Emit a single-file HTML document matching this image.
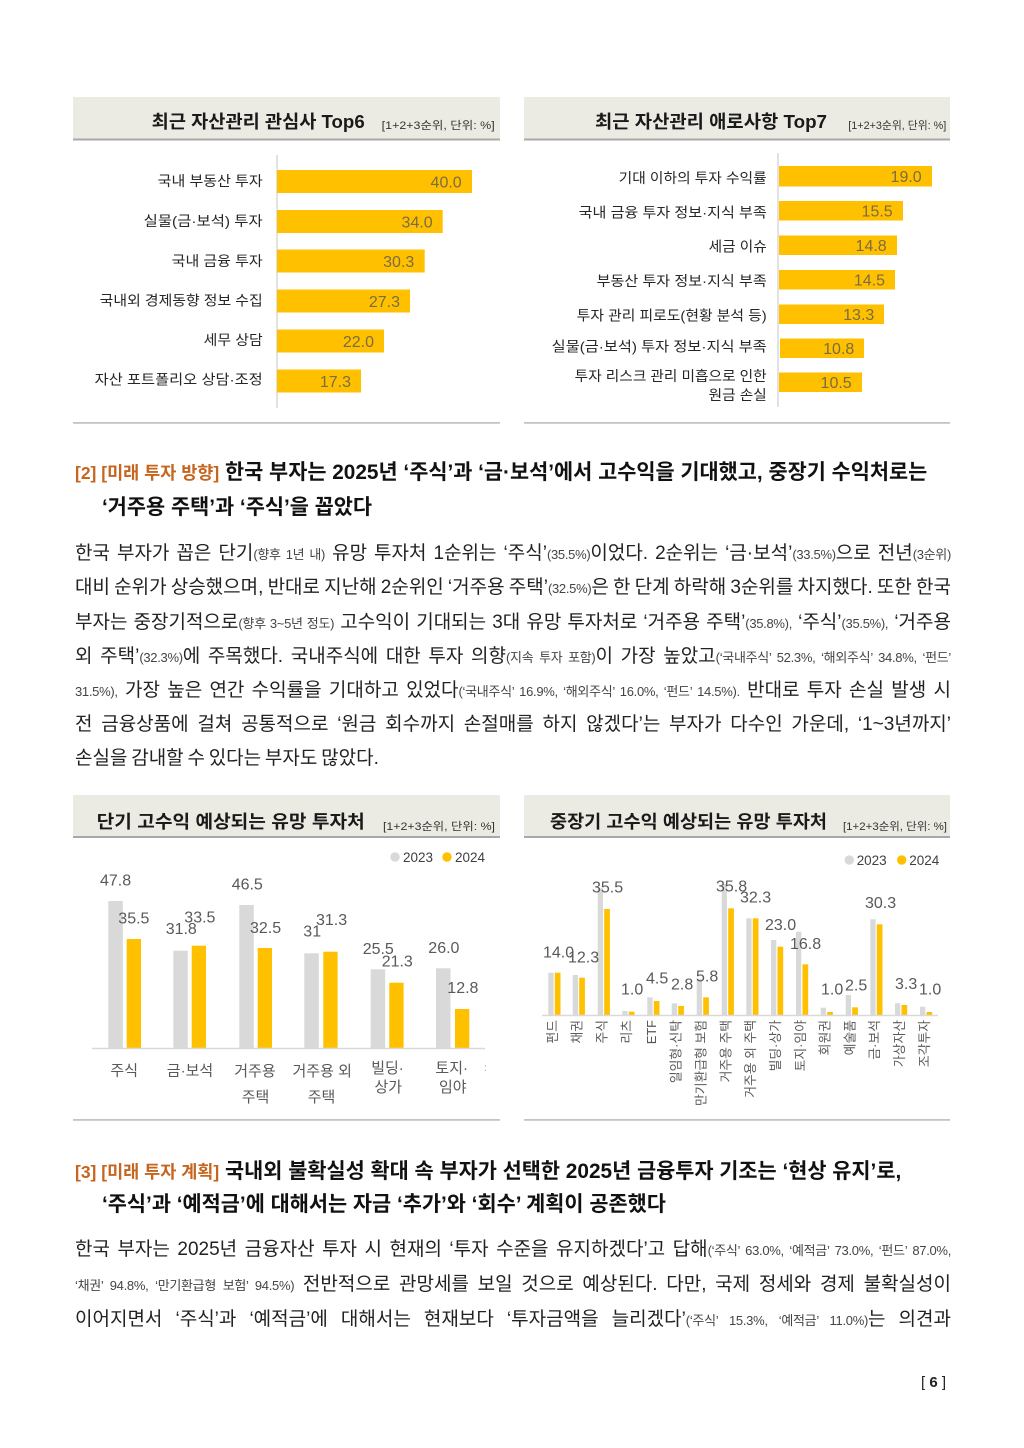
<!DOCTYPE html>
<html><head><meta charset="utf-8">
<style>
html,body{margin:0;padding:0;background:#fff;}
body{width:1024px;height:1448px;position:relative;overflow:hidden;font-family:"Liberation Sans","Noto Sans CJK KR",sans-serif;}
svg{position:absolute;left:0;top:0;}
.ln{position:absolute;left:75px;width:876px;height:34px;line-height:34px;font-size:19px;color:#222;text-align:justify;text-align-last:justify;white-space:nowrap;word-spacing:-1.5px;}
.ln.last{text-align:left;text-align-last:left;}
.s{font-size:13px;color:#444;letter-spacing:-0.3px;}
.hl{position:absolute;left:75px;height:34px;line-height:34px;font-size:20.8px;font-weight:bold;color:#111;white-space:nowrap;}
.hb{font-size:17.5px;color:#C5651E;}
.pg{position:absolute;left:921px;top:1373px;font-size:15px;color:#222;line-height:20px;white-space:nowrap;}
</style></head>
<body>
<svg width="1024" height="1448" viewBox="0 0 1024 1448" font-family="'Liberation Sans','Noto Sans CJK KR',sans-serif">
<!-- ===== Top-left chart ===== -->
<rect x="73" y="97" width="427" height="42" fill="#ecebe3"/>
<rect x="73" y="138.5" width="427" height="2" fill="#a8a8a8"/>
<text x="151.7" y="128" font-size="18" font-weight="bold" fill="#1a1a1a" textLength="213" lengthAdjust="spacingAndGlyphs">최근 자산관리 관심사 Top6</text>
<text x="381.7" y="129" font-size="11" fill="#333" textLength="113" lengthAdjust="spacingAndGlyphs">[1+2+3순위, 단위: %]</text>
<line x1="277" y1="155" x2="277" y2="408" stroke="#d9d9d9" stroke-width="1.5"/>
<g fill="#FFC000">
<rect x="277" y="170" width="195" height="23"/>
<rect x="277" y="210" width="165.7" height="23"/>
<rect x="277" y="249.5" width="147.7" height="23"/>
<rect x="277" y="289.5" width="133" height="23"/>
<rect x="277" y="329.5" width="107" height="23"/>
<rect x="277" y="369.5" width="84" height="23"/>
</g>
<g font-size="16" fill="#7a6c45" text-anchor="end">
<text x="461.7" y="187.3">40.0</text>
<text x="432.7" y="227.3">34.0</text>
<text x="414.3" y="266.8">30.3</text>
<text x="400" y="306.8">27.3</text>
<text x="374" y="346.8">22.0</text>
<text x="351" y="386.8">17.3</text>
</g>
<g font-size="14" fill="#262626" text-anchor="end">
<text x="262.7" y="186" textLength="105" lengthAdjust="spacingAndGlyphs">국내 부동산 투자</text>
<text x="262.7" y="226" textLength="119" lengthAdjust="spacingAndGlyphs">실물(금·보석) 투자</text>
<text x="262.7" y="266" textLength="91" lengthAdjust="spacingAndGlyphs">국내 금융 투자</text>
<text x="262.7" y="305.3" textLength="163" lengthAdjust="spacingAndGlyphs">국내외 경제동향 정보 수집</text>
<text x="262.7" y="345" textLength="59" lengthAdjust="spacingAndGlyphs">세무 상담</text>
<text x="262.7" y="384.5" textLength="168" lengthAdjust="spacingAndGlyphs">자산 포트폴리오 상담·조정</text>
</g>
<rect x="73" y="422" width="427" height="1.8" fill="#c4c4c4"/>

<!-- ===== Top-right chart ===== -->
<rect x="524" y="97" width="426" height="42" fill="#ecebe3"/>
<rect x="524" y="138.5" width="426" height="2" fill="#a8a8a8"/>
<text x="595" y="128" font-size="18" font-weight="bold" fill="#1a1a1a" textLength="232" lengthAdjust="spacingAndGlyphs">최근 자산관리 애로사항 Top7</text>
<text x="848.3" y="129" font-size="11" fill="#333" textLength="98" lengthAdjust="spacingAndGlyphs">[1+2+3순위, 단위: %]</text>
<line x1="778" y1="153" x2="778" y2="407" stroke="#d9d9d9" stroke-width="1.5"/>
<g fill="#FFC000">
<rect x="779" y="166" width="153" height="20.5"/>
<rect x="779" y="201" width="124" height="19.5"/>
<rect x="779" y="235.5" width="118" height="19.5"/>
<rect x="779" y="270" width="116" height="19.5"/>
<rect x="779" y="304.5" width="105" height="19.5"/>
<rect x="780" y="338.5" width="84" height="19.5"/>
<rect x="779" y="372.5" width="83" height="19.5"/>
</g>
<g font-size="16" fill="#7a6c45" text-anchor="end">
<text x="921.7" y="182">19.0</text>
<text x="892.7" y="216.5">15.5</text>
<text x="886.7" y="251">14.8</text>
<text x="885" y="285.5">14.5</text>
<text x="874.3" y="320">13.3</text>
<text x="854.3" y="354">10.8</text>
<text x="851.7" y="388">10.5</text>
</g>
<g font-size="14" fill="#262626" text-anchor="end">
<text x="766.7" y="183" textLength="148" lengthAdjust="spacingAndGlyphs">기대 이하의 투자 수익률</text>
<text x="766.7" y="217.7" textLength="188" lengthAdjust="spacingAndGlyphs">국내 금융 투자 정보·지식 부족</text>
<text x="766.7" y="251.7" textLength="58" lengthAdjust="spacingAndGlyphs">세금 이슈</text>
<text x="766.7" y="286" textLength="170" lengthAdjust="spacingAndGlyphs">부동산 투자 정보·지식 부족</text>
<text x="766.7" y="320.3" textLength="190" lengthAdjust="spacingAndGlyphs">투자 관리 피로도(현황 분석 등)</text>
<text x="766.7" y="351.7" textLength="215" lengthAdjust="spacingAndGlyphs">실물(금·보석) 투자 정보·지식 부족</text>
<text x="766.7" y="381" textLength="192" lengthAdjust="spacingAndGlyphs">투자 리스크 관리 미흡으로 인한</text>
<text x="766.7" y="400" textLength="58" lengthAdjust="spacingAndGlyphs">원금 손실</text>
</g>
<rect x="524" y="422" width="426" height="1.8" fill="#c4c4c4"/>

<!-- ===== Bottom-left chart ===== -->
<rect x="73" y="795" width="427" height="42" fill="#ecebe3"/>
<rect x="73" y="836" width="427" height="2" fill="#a8a8a8"/>
<text x="96.7" y="828" font-size="18" font-weight="bold" fill="#1a1a1a" textLength="268" lengthAdjust="spacingAndGlyphs">단기 고수익 예상되는 유망 투자처</text>
<text x="383" y="830" font-size="11" fill="#333" textLength="112" lengthAdjust="spacingAndGlyphs">[1+2+3순위, 단위: %]</text>
<circle cx="395" cy="857" r="4.7" fill="#d9d9d9"/>
<text x="403" y="862" font-size="14" fill="#404040" textLength="30" lengthAdjust="spacingAndGlyphs">2023</text>
<circle cx="447" cy="857" r="4.7" fill="#FFC000"/>
<text x="455" y="862" font-size="14" fill="#404040" textLength="30" lengthAdjust="spacingAndGlyphs">2024</text>
<g fill="#d9d9d9">
<rect x="108.3" y="901" width="14.5" height="147"/>
<rect x="173.3" y="950.7" width="14.5" height="97.3"/>
<rect x="239.3" y="905" width="14.5" height="143"/>
<rect x="304.3" y="953.3" width="14.5" height="94.7"/>
<rect x="370.7" y="969.3" width="14.5" height="78.7"/>
<rect x="436" y="968.3" width="14.5" height="79.7"/>
</g>
<g fill="#FFC000">
<rect x="126.7" y="939" width="14.3" height="109"/>
<rect x="191.7" y="945.7" width="14.3" height="102.3"/>
<rect x="257.7" y="948" width="14.3" height="100"/>
<rect x="323.3" y="951.7" width="14.3" height="96.3"/>
<rect x="389.3" y="982.7" width="14.3" height="65.3"/>
<rect x="455" y="1009" width="14.3" height="39"/>
</g>
<line x1="92" y1="1048.5" x2="485" y2="1048.5" stroke="#d9d9d9" stroke-width="1.5"/>
<g font-size="16" fill="#595959">
<text x="100" y="885.7">47.8</text>
<text x="118.3" y="923.4">35.5</text>
<text x="165.7" y="934">31.8</text>
<text x="184.3" y="922.4">33.5</text>
<text x="231.7" y="889.7">46.5</text>
<text x="250" y="933">32.5</text>
<text x="303.3" y="936.7">31</text>
<text x="316" y="925">31.3</text>
<text x="362.7" y="954">25.5</text>
<text x="381.7" y="966.7">21.3</text>
<text x="428.3" y="953">26.0</text>
<text x="447.3" y="993">12.8</text>
</g>
<g font-size="15" fill="#595959" text-anchor="middle">
<text x="124.2" y="1075.4">주식</text>
<text x="190" y="1075.4">금·보석</text>
<text x="255" y="1076.2">거주용</text>
<text x="255.5" y="1102.2">주택</text>
<text x="322.2" y="1076.2">거주용 외</text>
<text x="321.5" y="1102.2">주택</text>
<text x="387.5" y="1073.1">빌딩·</text>
<text x="388.3" y="1092.1">상가</text>
<text x="451.7" y="1073.1">토지·</text>
<text x="452.8" y="1092.1">임야</text>
</g>
<text x="484" y="1071" font-size="10" fill="#999">:</text>
<rect x="73" y="1119" width="427" height="1.8" fill="#c4c4c4"/>

<!-- ===== Bottom-right chart ===== -->
<rect x="524" y="795" width="426" height="42" fill="#ecebe3"/>
<rect x="524" y="836" width="426" height="2" fill="#a8a8a8"/>
<text x="550" y="828" font-size="18" font-weight="bold" fill="#1a1a1a" textLength="277" lengthAdjust="spacingAndGlyphs">중장기 고수익 예상되는 유망 투자처</text>
<text x="843" y="830" font-size="11" fill="#333" textLength="104" lengthAdjust="spacingAndGlyphs">[1+2+3순위, 단위: %]</text>
<circle cx="849.3" cy="860" r="4.7" fill="#d9d9d9"/>
<text x="856.7" y="865" font-size="14" fill="#404040" textLength="30" lengthAdjust="spacingAndGlyphs">2023</text>
<circle cx="901.7" cy="860" r="4.7" fill="#FFC000"/>
<text x="909.3" y="865" font-size="14" fill="#404040" textLength="30" lengthAdjust="spacingAndGlyphs">2024</text>
<g fill="#d9d9d9">
<rect x="548.3" y="972.7" width="5.3" height="42.3"/>
<rect x="572.7" y="975" width="5.3" height="40"/>
<rect x="597.7" y="888.3" width="5.3" height="126.7"/>
<rect x="622.3" y="1011" width="5.3" height="4"/>
<rect x="647.3" y="997.3" width="5.3" height="17.7"/>
<rect x="671.7" y="1003.3" width="5.3" height="11.7"/>
<rect x="696.7" y="979" width="5.3" height="36"/>
<rect x="721.7" y="884" width="5.3" height="131"/>
<rect x="746.3" y="918.3" width="5.3" height="96.7"/>
<rect x="771" y="940" width="5.3" height="75"/>
<rect x="796" y="931.7" width="5.3" height="83.3"/>
<rect x="820.7" y="1007.7" width="5.3" height="7.3"/>
<rect x="845.7" y="995" width="5.3" height="20"/>
<rect x="870.3" y="919.3" width="5.3" height="95.7"/>
<rect x="895" y="1003.3" width="5.3" height="11.7"/>
<rect x="920" y="1006.7" width="5.3" height="8.3"/>
</g>
<g fill="#FFC000">
<rect x="554.8" y="972.7" width="5.7" height="42.3"/>
<rect x="579.2" y="977.7" width="5.7" height="37.3"/>
<rect x="604.2" y="909" width="5.7" height="106"/>
<rect x="628.8" y="1011.7" width="5.7" height="3.3"/>
<rect x="653.8" y="1001" width="5.7" height="14"/>
<rect x="678.2" y="1006" width="5.7" height="9"/>
<rect x="703.2" y="997.3" width="5.7" height="17.7"/>
<rect x="728.2" y="908.3" width="5.7" height="106.7"/>
<rect x="752.8" y="918.3" width="5.7" height="96.7"/>
<rect x="777.5" y="946.7" width="5.7" height="68.3"/>
<rect x="802.5" y="964.3" width="5.7" height="50.7"/>
<rect x="827.2" y="1012" width="5.7" height="3"/>
<rect x="852.2" y="1007.3" width="5.7" height="7.7"/>
<rect x="876.8" y="924.3" width="5.7" height="90.7"/>
<rect x="901.5" y="1005" width="5.7" height="10"/>
<rect x="926.5" y="1012" width="5.7" height="3"/>
</g>
<line x1="542" y1="1015.5" x2="938" y2="1015.5" stroke="#d9d9d9" stroke-width="1.5"/>
<g font-size="16" fill="#595959">
<text x="543" y="957.4">14.0</text>
<text x="568" y="962.4">12.3</text>
<text x="592" y="892.4">35.5</text>
<text x="621" y="994.7">1.0</text>
<text x="646" y="983.7">4.5</text>
<text x="671" y="989.7">2.8</text>
<text x="696" y="981.4">5.8</text>
<text x="716" y="891.4">35.8</text>
<text x="740" y="902.7">32.3</text>
<text x="765" y="930">23.0</text>
<text x="790" y="949">16.8</text>
<text x="821" y="994.7">1.0</text>
<text x="845" y="990.7">2.5</text>
<text x="865" y="908">30.3</text>
<text x="895" y="989">3.3</text>
<text x="919" y="994.7">1.0</text>
</g>
<g font-size="12.8" fill="#595959" text-anchor="end">
<text transform="translate(557.2,1020) rotate(-90)">펀드</text>
<text transform="translate(581.6,1020) rotate(-90)">채권</text>
<text transform="translate(606.6,1020) rotate(-90)">주식</text>
<text transform="translate(631.2,1020) rotate(-90)">리츠</text>
<text transform="translate(656.2,1020) rotate(-90)">ETF</text>
<text transform="translate(680.6,1020) rotate(-90)">일임형·신탁</text>
<text transform="translate(705.6,1020) rotate(-90)">만기환급형 보험</text>
<text transform="translate(730.6,1020) rotate(-90)">거주용 주택</text>
<text transform="translate(755.2,1020) rotate(-90)">거주용 외 주택</text>
<text transform="translate(779.9,1020) rotate(-90)">빌딩·상가</text>
<text transform="translate(804.9,1020) rotate(-90)">토지·임야</text>
<text transform="translate(829.6,1020) rotate(-90)">회원권</text>
<text transform="translate(854.6,1020) rotate(-90)">예술품</text>
<text transform="translate(879.2,1020) rotate(-90)">금·보석</text>
<text transform="translate(903.9,1020) rotate(-90)">가상자산</text>
<text transform="translate(928.9,1020) rotate(-90)">조각투자</text>
</g>
<rect x="524" y="1119" width="426" height="1.8" fill="#c4c4c4"/>
</svg>

<!-- Section [2] heading -->
<div class="hl" style="top:456px;"><span class="hb">[2] [미래 투자 방향]</span> 한국 부자는 2025년 ‘주식’과 ‘금·보석’에서 고수익을 기대했고, 중장기 수익처로는</div>
<div class="hl" style="top:491px;left:102px;">‘거주용 주택’과 ‘주식’을 꼽았다</div>

<!-- Section [2] paragraph -->
<div class="ln" style="top:537px;">한국 부자가 꼽은 단기<span class="s">(향후 1년 내)</span> 유망 투자처 1순위는 ‘주식’<span class="s">(35.5%)</span>이었다. 2순위는 ‘금·보석’<span class="s">(33.5%)</span>으로 전년<span class="s">(3순위)</span></div>
<div class="ln" style="top:571px;">대비 순위가 상승했으며, 반대로 지난해 2순위인 ‘거주용 주택’<span class="s">(32.5%)</span>은 한 단계 하락해 3순위를 차지했다. 또한 한국</div>
<div class="ln" style="top:605.5px;">부자는 중장기적으로<span class="s">(향후 3~5년 정도)</span> 고수익이 기대되는 3대 유망 투자처로 ‘거주용 주택’<span class="s">(35.8%),</span> ‘주식’<span class="s">(35.5%),</span> ‘거주용</div>
<div class="ln" style="top:640px;">외 주택’<span class="s">(32.3%)</span>에 주목했다. 국내주식에 대한 투자 의향<span class="s">(지속 투자 포함)</span>이 가장 높았고<span class="s">(‘국내주식’ 52.3%, ‘해외주식’ 34.8%, ‘펀드’</span></div>
<div class="ln" style="top:674px;"><span class="s">31.5%),</span> 가장 높은 연간 수익률을 기대하고 있었다<span class="s">(‘국내주식’ 16.9%, ‘해외주식’ 16.0%, ‘펀드’ 14.5%).</span> 반대로 투자 손실 발생 시</div>
<div class="ln" style="top:708px;">전 금융상품에 걸쳐 공통적으로 ‘원금 회수까지 손절매를 하지 않겠다’는 부자가 다수인 가운데, ‘1~3년까지’</div>
<div class="ln last" style="top:741.5px;">손실을 감내할 수 있다는 부자도 많았다.</div>

<!-- Section [3] heading -->
<div class="hl" style="top:1155px;"><span class="hb">[3] [미래 투자 계획]</span> 국내외 불확실성 확대 속 부자가 선택한 2025년 금융투자 기조는 ‘현상 유지’로,</div>
<div class="hl" style="top:1188px;left:102px;">‘주식’과 ‘예적금’에 대해서는 자금 ‘추가’와 ‘회수’ 계획이 공존했다</div>

<!-- Section [3] paragraph -->
<div class="ln" style="top:1233px;">한국 부자는 2025년 금융자산 투자 시 현재의 ‘투자 수준을 유지하겠다’고 답해<span class="s">(‘주식’ 63.0%, ‘예적금’ 73.0%, ‘펀드’ 87.0%,</span></div>
<div class="ln" style="top:1268px;"><span class="s">‘채권’ 94.8%, ‘만기환급형 보험’ 94.5%)</span> 전반적으로 관망세를 보일 것으로 예상된다. 다만, 국제 정세와 경제 불확실성이</div>
<div class="ln" style="top:1303px;">이어지면서 ‘주식’과 ‘예적금’에 대해서는 현재보다 ‘투자금액을 늘리겠다’<span class="s">(‘주식’ 15.3%, ‘예적금’ 11.0%)</span>는 의견과</div>

<div class="pg">[ <b>6</b> ]</div>
</body></html>
